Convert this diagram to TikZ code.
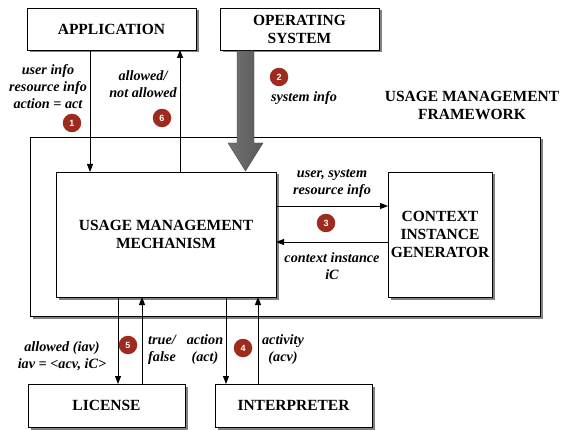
\documentclass[tikz,border=0pt]{standalone}
\usepackage{fontspec}
\setmainfont{Liberation Serif}
\setsansfont{Liberation Sans}
\usetikzlibrary{arrows.meta,shadows}
\definecolor{badgered}{HTML}{9E2B1E}
\tikzset{
  box/.style={draw=black, line width=0.9pt, fill=white,
    drop shadow={shadow xshift=2.5pt, shadow yshift=-2.5pt, fill=black!70, opacity=0.7}},
  boxtext/.style={font=\fontsize{15.5}{18}\selectfont\bfseries, align=center},
  lbl/.style={font=\fontsize{14.2}{17}\selectfont\bfseries\itshape, align=center},
  flow/.style={line width=0.9pt, -{Triangle[length=8pt,width=6pt]}},
  badge/.style={circle, fill=badgered, minimum size=18.5pt, inner sep=0pt,
    text=white, font=\sffamily\bfseries\fontsize{9}{9}\selectfont}
}
\begin{document}
\begin{tikzpicture}[x=1pt, y=-1pt]
\useasboundingbox (0,0) rectangle (562,430);

% outer framework frame
\draw[box] (30,137) rectangle (540,316);
\node[boxtext] (fwt) at (472,105) {USAGE MANAGEMENT\\FRAMEWORK};

% boxes
\draw[box] (27,8) rectangle (196,50);
\node[boxtext] (app) at (111.5,29) {APPLICATION};

\draw[box] (220,8) rectangle (379,50);
\node[boxtext] (os) at (299.5,29) {OPERATING\\SYSTEM};

\draw[box] (56,172) rectangle (276,297);
\node[boxtext] (umm) at (166,234) {USAGE MANAGEMENT\\MECHANISM};

\draw[box] (388,172) rectangle (492,297);
\node[boxtext] (cig) at (440,234) {CONTEXT\\INSTANCE\\GENERATOR};

\draw[box] (28,384) rectangle (185,427);
\node[boxtext] (lic) at (106.5,405.5) {LICENSE};

\draw[box] (215,384) rectangle (372,427);
\node[boxtext] (int) at (293.5,405.5) {INTERPRETER};

% connector end points on the box edges
\coordinate (a1) at (90,50);   \coordinate (m1) at (90,172);
\coordinate (a2) at (180,50);  \coordinate (m2) at (180,172);
\coordinate (m3) at (276,206); \coordinate (c3) at (388,206);
\coordinate (m4) at (276,242); \coordinate (c4) at (388,242);
\coordinate (m5) at (118,297); \coordinate (l5) at (118,384);
\coordinate (m6) at (142,297); \coordinate (l6) at (142,384);
\coordinate (m7) at (226,297); \coordinate (i7) at (226,384);
\coordinate (m8) at (258,297); \coordinate (i8) at (258,384);

\draw[flow] (a1) -- (m1);
\draw[flow] (m2) -- (a2);
\draw[flow] (m3) -- (c3);
\draw[flow] (c4) -- (m4);
\draw[flow] (m5) -- (l5);
\draw[flow] (l6) -- (m6);
\draw[flow] (m7) -- (i7);
\draw[flow] (i8) -- (m8);

% broad shaded arrow from the operating system
\shade[left color=black!55, middle color=black!25, right color=black!65,
       draw=black!70, line width=0.4pt]
  (237,51) -- (254,51) -- (254,143) -- (263,143) -- (245.5,171)
  -- (228,143) -- (237,143) -- cycle;

% labels
\node[lbl] (l1) at (48,87) {user info\\resource info\\action = act};
\node[lbl] (l6t) at (143,84) {allowed/\\not allowed};
\node[lbl] (l2) at (304,98) {system info};
\node[lbl] (l3a) at (332,184) {user, system\\resource info};
\node[lbl] (l3b) at (332,266) {context instance\\iC};
\node[lbl] (l5a) at (62,356) {allowed (iav)\\iav = <acv, iC>};
\node[lbl] (l5b) at (162,350) {true/\\false};
\node[lbl] (l4a) at (205,350) {action\\(act)};
\node[lbl] (l4b) at (283,350) {activity\\(acv)};

% step numbers
\node[badge] (b1) at (72,123) {1};
\node[badge] (b6) at (162,118) {6};
\node[badge] (b2) at (279,77) {2};
\node[badge] (b3) at (326,223) {3};
\node[badge] (b5) at (128,345) {5};
\node[badge] (b4) at (243,348) {4};
\end{tikzpicture}
\end{document}
